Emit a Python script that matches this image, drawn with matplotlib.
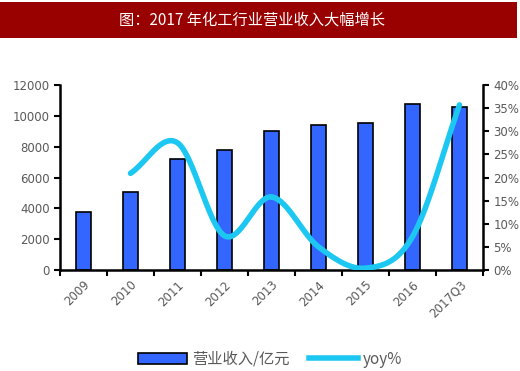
import numpy as np
import matplotlib
matplotlib.use("Agg")
import matplotlib.pyplot as plt
from matplotlib.patches import Rectangle
from matplotlib.lines import Line2D
from matplotlib.ticker import FuncFormatter

plt.rcParams['font.family'] = ['Noto Sans CJK SC', 'DejaVu Sans']

categories = ['2009', '2010', '2011', '2012', '2013', '2014', '2015', '2016', '2017Q3']
revenue = [3780, 5080, 7220, 7760, 9020, 9400, 9560, 10750, 10600]
yoy = [None, 0.209, 0.275, 0.074, 0.158, 0.050, 0.004, 0.072, 0.357]
title = '图：2017 年化工行业营业收入大幅增长'
bar_label = '营业收入/亿元'
line_label = 'yoy%'

bar_color = '#3366FF'
line_color = '#1CC8F2'
tick_color = '#595959'


def catmull_rom(xs, ys, n=40):
    xs = np.asarray(xs, float)
    ys = np.asarray(ys, float)
    px = np.concatenate([[2 * xs[0] - xs[1]], xs, [2 * xs[-1] - xs[-2]]])
    py = np.concatenate([[2 * ys[0] - ys[1]], ys, [2 * ys[-1] - ys[-2]]])
    outx, outy = [], []
    for i in range(1, len(px) - 2):
        t = np.linspace(0, 1, n)
        for arr, out in ((px, outx), (py, outy)):
            p0, p1, p2, p3 = arr[i - 1], arr[i], arr[i + 1], arr[i + 2]
            out.extend(0.5 * ((2 * p1) + (-p0 + p2) * t
                              + (2 * p0 - 5 * p1 + 4 * p2 - p3) * t ** 2
                              + (-p0 + 3 * p1 - 3 * p2 + p3) * t ** 3))
    return np.array(outx), np.array(outy)


fig = plt.figure(figsize=(5.2, 3.71), dpi=100)

# title bar
fig.patches.append(Rectangle((0, 1 - 38 / 371), 517 / 520, 36 / 371,
                             transform=fig.transFigure, facecolor='#990000',
                             edgecolor='none', zorder=0))
fig.text(252 / 520, 1 - 20 / 371, title, color='white', fontsize=11,
         ha='center', va='center')

ax = fig.add_axes([60 / 520, 1 - 270 / 371, 423 / 520, 185 / 371])
x = np.arange(len(categories))
ax.bar(x, revenue, width=0.32, color=bar_color, edgecolor='black',
       linewidth=1.2, zorder=2)
ax.set_xlim(-0.5, len(categories) - 0.5)
ax.set_ylim(0, 12000)
ax.set_yticks(np.arange(0, 12001, 2000))
ax.set_xticks(np.arange(-0.5, len(categories), 1.0))
ax.set_xticklabels([])
ax.set_xticks(x, minor=True)
ax.set_xticklabels(categories, minor=True, rotation=45, ha='right',
                   rotation_mode='anchor', color=tick_color, fontsize=8.5,
                   family=['DejaVu Sans'])
ax.tick_params(axis='x', which='minor', length=0, pad=6)
ax.tick_params(axis='x', which='major', length=4, width=1.5, direction='out')
ax.tick_params(axis='y', length=4, width=1.5, direction='out',
               labelcolor=tick_color, labelsize=8.5)
for lab in ax.get_yticklabels():
    lab.set_family(['DejaVu Sans'])
for s in ['top', 'right']:
    ax.spines[s].set_visible(False)
ax.spines['left'].set_linewidth(1.8)
ax.spines['bottom'].set_linewidth(1.8)

ax2 = ax.twinx()
ax2.set_ylim(0, 0.4)
ax2.set_yticks(np.arange(0, 0.41, 0.05))
ax2.yaxis.set_major_formatter(FuncFormatter(lambda v, p: f'{v * 100:.0f}%'))
ax2.tick_params(axis='y', length=4, width=1.5, direction='out',
                labelcolor=tick_color, labelsize=8.5)
for lab in ax2.get_yticklabels():
    lab.set_family(['DejaVu Sans'])
for s in ['top', 'left', 'bottom']:
    ax2.spines[s].set_visible(False)
ax2.spines['right'].set_linewidth(1.8)

lx = [i for i, v in enumerate(yoy) if v is not None]
ly = [v for v in yoy if v is not None]
sx, sy = catmull_rom(lx, ly)
ax2.plot(sx, sy, color=line_color, linewidth=4, solid_capstyle='round',
         zorder=3)

handles = [Rectangle((0, 0), 1, 1, facecolor=bar_color, edgecolor='black',
                     linewidth=1.2),
           Line2D([], [], color=line_color, linewidth=4)]
leg = fig.legend(handles, [bar_label, line_label], loc='center',
                 bbox_to_anchor=(270 / 520, 1 - 359 / 371), ncol=2,
                 frameon=False, fontsize=11, handlelength=3.2,
                 handleheight=0.7, columnspacing=1.3, handletextpad=0.3)
for t in leg.get_texts():
    t.set_color(tick_color)

fig.savefig('out.png', dpi=100)
